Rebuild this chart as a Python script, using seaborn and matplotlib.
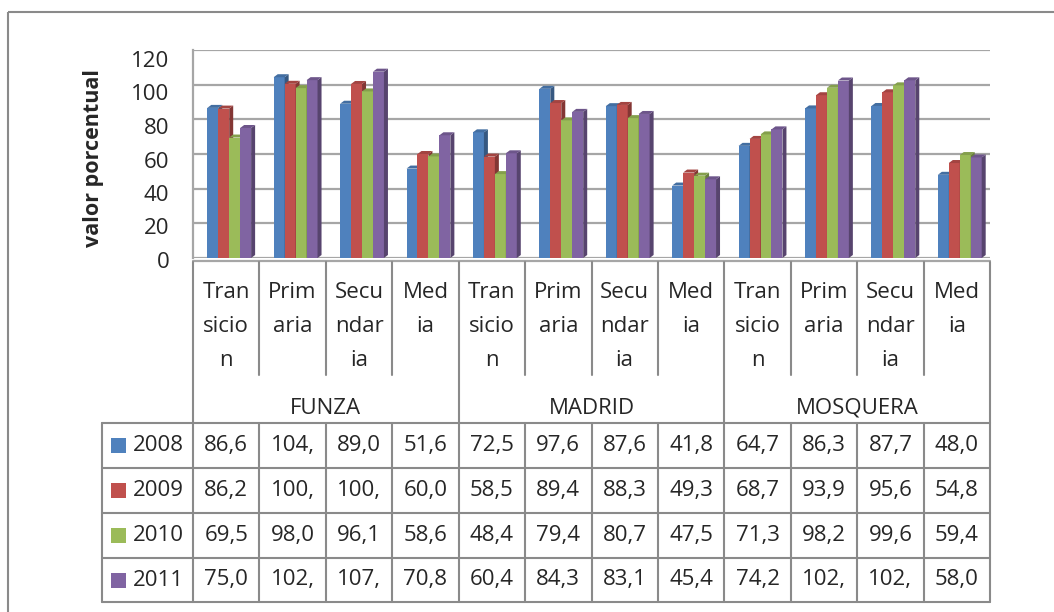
import matplotlib
matplotlib.use("Agg")
import matplotlib.pyplot as plt
from matplotlib.patches import Polygon, Rectangle
from matplotlib.colors import to_rgb
from matplotlib.transforms import ScaledTranslation
import seaborn as sns
import pandas as pd

municipios = ["FUNZA", "MADRID", "MOSQUERA"]
niveles = ["Transicion", "Primaria", "Secundaria", "Media"]
# how the level names get wrapped inside the narrow table cells
niveles_cortados = {
    "Transicion": ["Tran", "sicio", "n"],
    "Primaria": ["Prim", "aria"],
    "Secundaria": ["Secu", "ndar", "ia"],
    "Media": ["Med", "ia"],
}
anios = ["2008", "2009", "2010", "2011"]
valores_2008 = [86.6, 104.3, 89.0, 51.6, 72.5, 97.6, 87.6, 41.8, 64.7, 86.3, 87.7, 48.0]
valores_2009 = [86.2, 100.5, 100.4, 60.0, 58.5, 89.4, 88.3, 49.3, 68.7, 93.9, 95.6, 54.8]
valores_2010 = [69.5, 98.0, 96.1, 58.6, 48.4, 79.4, 80.7, 47.5, 71.3, 98.2, 99.6, 59.4]
valores_2011 = [75.0, 102.6, 107.5, 70.8, 60.4, 84.3, 83.1, 45.4, 74.2, 102.4, 102.5, 58.0]
series = [valores_2008, valores_2009, valores_2010, valores_2011]

colores = ["#4F81BD", "#C0504D", "#9BBB59", "#8064A2"]

# long table for seaborn
categorias = [f"{m} {n}" for m in municipios for n in niveles]
filas = []
for anio, vals in zip(anios, series):
    for cat, v in zip(categorias, vals):
        filas.append({"categoria": cat, "anio": anio, "valor": v})
df = pd.DataFrame(filas)

sns.set_style("white")
plt.rcParams["font.family"] = ["Open Sans", "DejaVu Sans"]
FS = 16
GRIS = "#8A8A8A"

W, H = 1054, 612
fig = plt.figure(figsize=(W / 100, H / 100), dpi=100)

# pixel layout of the Excel chart
col_izq, col_der = 193, 990
y_cero, y_tope = 258, 50
ancho_col = (col_der - col_izq) / len(categorias)

# overlay axes in pixel coordinates for frame + data table
fondo = fig.add_axes([0, 0, 1, 1])
fondo.set_xlim(0, W)
fondo.set_ylim(H, 0)
fondo.axis("off")
fondo.add_patch(Rectangle((8, 12), W, H, fill=False, edgecolor=GRIS, lw=1.5))

ax = fig.add_axes([col_izq / W, (H - y_cero) / H, (col_der - col_izq) / W, (y_cero - y_tope) / H])
ax.set_facecolor("none")
sns.barplot(data=df, x="categoria", y="valor", hue="anio", order=categorias,
            hue_order=anios, palette=colores, saturation=1, width=0.66, gap=0,
            legend=False, ax=ax)

# fake the 3D look: side and top faces for every bar
dx = 4 / ancho_col
dy = 3 / (y_cero - y_tope) * 120
for i, cont in enumerate(ax.containers):
    base = to_rgb(colores[i])
    lado = tuple(c * 0.68 for c in base)
    tapa = tuple(c * 0.85 for c in base)
    for bar in cont:
        x0, w, h = bar.get_x(), bar.get_width(), bar.get_height()
        bar.set_zorder(3 + i)
        bar.set_linewidth(0)
        ax.add_patch(Polygon([(x0 + w, 0), (x0 + w + dx, dy), (x0 + w + dx, h + dy), (x0 + w, h)],
                             closed=True, facecolor=lado, lw=0, zorder=3 + i))
        ax.add_patch(Polygon([(x0, h), (x0 + dx, h + dy), (x0 + w + dx, h + dy), (x0 + w, h)],
                             closed=True, facecolor=tapa, lw=0, zorder=3 + i))

ax.set_ylim(0, 120)
ax.set_xlim(-0.545, len(categorias) - 0.545)
ax.set_yticks(range(0, 121, 20))
ax.yaxis.grid(True, color="#A6A6A6", lw=1.6)
ax.set_axisbelow(True)
ax.set_xticks([])
ax.set_xlabel("")
ax.set_ylabel("")
for s in ["top", "right", "bottom"]:
    ax.spines[s].set_visible(False)
ax.spines["left"].set_color("#A6A6A6")
ax.spines["left"].set_linewidth(1.6)
ax.tick_params(axis="y", length=0, pad=17, labelsize=FS)
# labels sit on the front of the 3D box, a bit below the back-wall gridlines
for t in ax.yaxis.get_major_ticks():
    baja = (2 + 7 * t.get_loc() / 120) / 100
    t.label1.set_transform(t.label1.get_transform() + ScaledTranslation(0, -baja, fig.dpi_scale_trans))
fondo.text(93, 158, "valor porcentual", rotation=90, ha="center", va="center",
           fontsize=15.5, fontweight="bold")

# category labels (wrapped) and municipality row
bordes = [col_izq + k * ancho_col for k in range(len(categorias) + 1)]
for k, cat in enumerate(categorias):
    nivel = niveles[k % len(niveles)]
    cx = (bordes[k] + bordes[k + 1]) / 2
    for j, parte in enumerate(niveles_cortados[nivel]):
        fondo.text(cx, 293 + j * 34, parte, ha="center", va="center", fontsize=FS)
for g, m in enumerate(municipios):
    cx = (bordes[g * 4] + bordes[g * 4 + 4]) / 2
    fondo.text(cx, 408, m, ha="center", va="center", fontsize=FS)

fondo.plot([col_izq, col_der], [y_cero + 3, y_cero + 3], color="#A6A6A6", lw=1.6)
for k, xb in enumerate(bordes):
    fin = 423 if k % 4 == 0 else 375
    fondo.plot([xb, xb], [y_cero + 4, fin], color=GRIS, lw=1.5)

# data table
y_filas = [423, 468, 513, 558, 602]
x_tabla = 102
for yb in y_filas:
    fondo.plot([x_tabla, col_der], [yb, yb], color=GRIS, lw=1.5)
for xb in [x_tabla] + bordes:
    fondo.plot([xb, xb], [y_filas[0], y_filas[-1]], color=GRIS, lw=1.5)
for r, (anio, vals) in enumerate(zip(anios, series)):
    cy = (y_filas[r] + y_filas[r + 1]) / 2
    fondo.add_patch(Rectangle((111, cy - 7.5), 15, 15, facecolor=colores[r], lw=0))
    fondo.text(133, cy, anio, ha="left", va="center", fontsize=FS)
    for k, v in enumerate(vals):
        cx = (bordes[k] + bordes[k + 1]) / 2
        # Excel cuts the number to what fits in the cell
        txt = f"{v:.1f}".replace(".", ",")[:4]
        fondo.text(cx, cy, txt, ha="center", va="center", fontsize=FS)

fig.savefig("out.png", dpi=100)
